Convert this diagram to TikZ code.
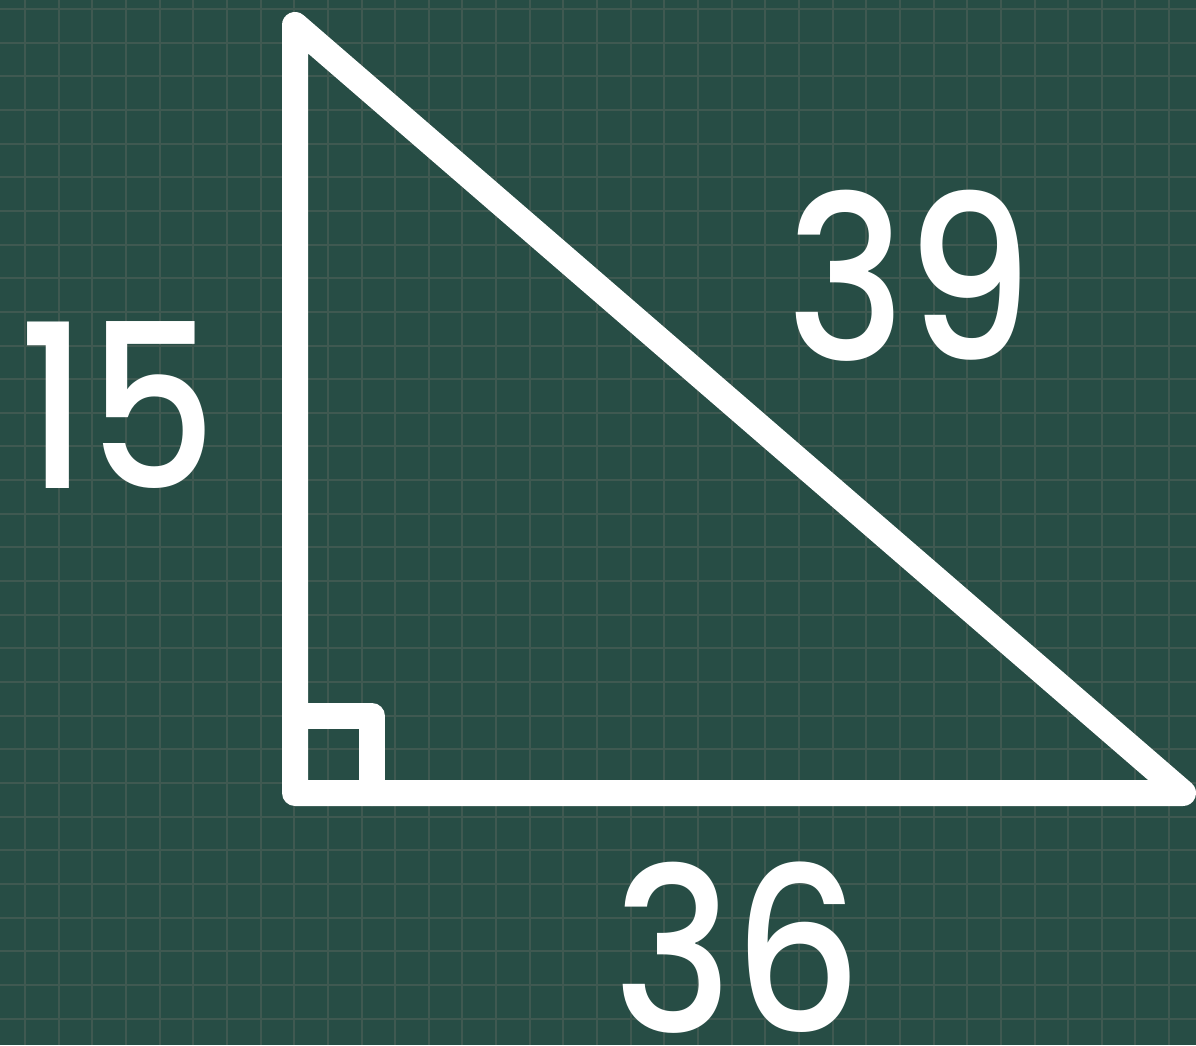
\documentclass[tikz,border=0pt]{standalone}
\usepackage{fontspec}
\newfontfamily\sidefont{Poppins}[UprightFont=*-Medium]
\definecolor{board}{RGB}{39,77,69}
\definecolor{board-grid}{RGB}{63,89,81}
\tikzset{
    grid-line/.style = {draw=board-grid, line width=0.04cm},
    side-line/.style = {draw=white, line width=0.52cm, line join=round, line cap=round},
    side-label/.style = {text=white, font=\fontsize{130}{130}\sidefont, anchor=base, inner sep=0pt, xscale=0.88},
}

\begin{document}
\begin{tikzpicture}[x=0.02cm, y=-0.02cm]
\fill[board] (0,0) rectangle (1196,1045);
\useasboundingbox (0,0) rectangle (1196,1045);
\foreach \k in {0,...,34} {
    \draw[grid-line] ({25+33.65*\k},0) -- ({25+33.65*\k},1045);
}
\foreach \k in {0,...,30} {
    \draw[grid-line] (0,{9+33.65*\k}) -- (1196,{9+33.65*\k});
}
\coordinate (top) at (295,25);
\coordinate (corner) at (295,793);
\coordinate (right) at (1183,793);
\coordinate (mark) at (372,716);
\draw[side-line] (top) -- (corner) -- (right) -- cycle;
\draw[side-line] (corner |- mark) -- (mark) -- (mark |- corner);
\node[side-label] (leg-a) at (118,488) {15};
\node[side-label] (hyp) at (910,360) {39};
\node[side-label] (leg-b) at (738,1032) {36};
\end{tikzpicture}
\end{document}
